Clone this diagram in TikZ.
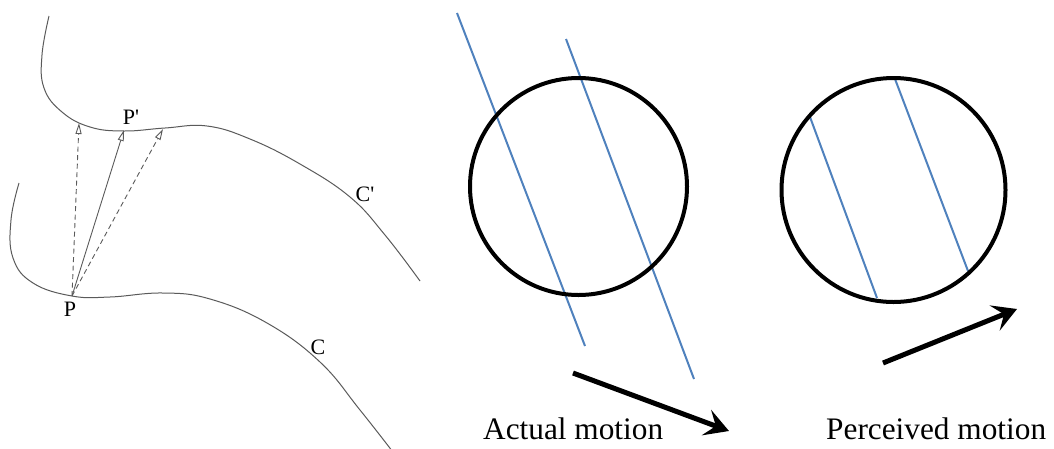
\documentclass[tikz,border=0pt]{standalone}
\usepackage{fontspec}
\setmainfont{Liberation Serif}
\usetikzlibrary{arrows.meta}
\definecolor{curvegray}{HTML}{5A5A5A}
\definecolor{lineblue}{HTML}{4F81BD}
\tikzset{
  curve/.style={draw=curvegray, line width=1pt},
  vec/.style={draw=curvegray, line width=0.9pt, -{Triangle[open, length=11pt, width=6pt, fill=white]}},
  dashvec/.style={vec, dash pattern=on 5pt off 3.5pt},
  lbl/.style={font=\fontsize{22}{26}\selectfont, inner sep=0pt},
  ring/.style={draw=black, line width=4pt},
  stripe/.style={draw=lineblue, line width=2pt},
  motion/.style={draw=black, line width=5pt, -{Stealth[length=24pt, width=27pt, inset=10pt]}},
  caption/.style={font=\fontsize{31.3}{36}\selectfont, anchor=base west, inner sep=0pt}
}
\begin{document}
\begin{tikzpicture}[x=1pt, y=-1pt]
\useasboundingbox (0,0) rectangle (1054,448);
\begin{scope}
\clip (0,0) rectangle (1054,448);
% curve C'
\draw[curve] plot[smooth, tension=0.7] coordinates {(49,16) (42,55) (44,88) (62,112) (90,127) (124,131) (165,128) (207,126) (250,139) (300,164) (350,197) (385,235) (420,281)};
% curve C
\draw[curve] plot[smooth, tension=0.7] coordinates {(19,183) (11,220) (13,258) (33,283) (72,296) (110,297) (163,293) (210,299) (267,323) (320,362) (360,410) (396,456)};
\end{scope}
% points
\coordinate (P) at (72,296);
\coordinate (Pl) at (79,123);
\coordinate (Pm) at (124,130);
\coordinate (Pr) at (163,129);
\draw[dashvec] (P) -- (Pl);
\draw[vec] (P) -- (Pm);
\draw[dashvec] (P) -- (Pr);
% labels
\node[lbl] (labP) at (70,309) {P};
\node[lbl] (labPp) at (131,117) {P\textquotesingle};
\node[lbl] (labCp) at (365,194) {C\textquotesingle};
\node[lbl] (labC) at (318,347) {C};
% left circle (actual)
\coordinate (c1) at (578.5,186.5);
\draw[stripe] (457,13) -- (585,346);
\draw[stripe] (566,39) -- (694,379);
\draw[ring] (c1) circle[radius=108.5];
% right circle (perceived)
\coordinate (c2) at (893.5,190);
\draw[stripe] (810,117) -- (877,298);
\draw[stripe] (895,79) -- (968,271);
\draw[ring] (c2) circle[radius=112];
% motion arrows
\coordinate (a1) at (573,373);
\coordinate (a2) at (729,431);
\coordinate (b1) at (883,363);
\coordinate (b2) at (1017,309);
\draw[motion] (a1) -- (a2);
\draw[motion] (b1) -- (b2);
% captions
\node[caption] (actual) at (483,439) {Actual motion};
\node[caption] (perceived) at (826,439) {Perceived motion};
\end{tikzpicture}
\end{document}
